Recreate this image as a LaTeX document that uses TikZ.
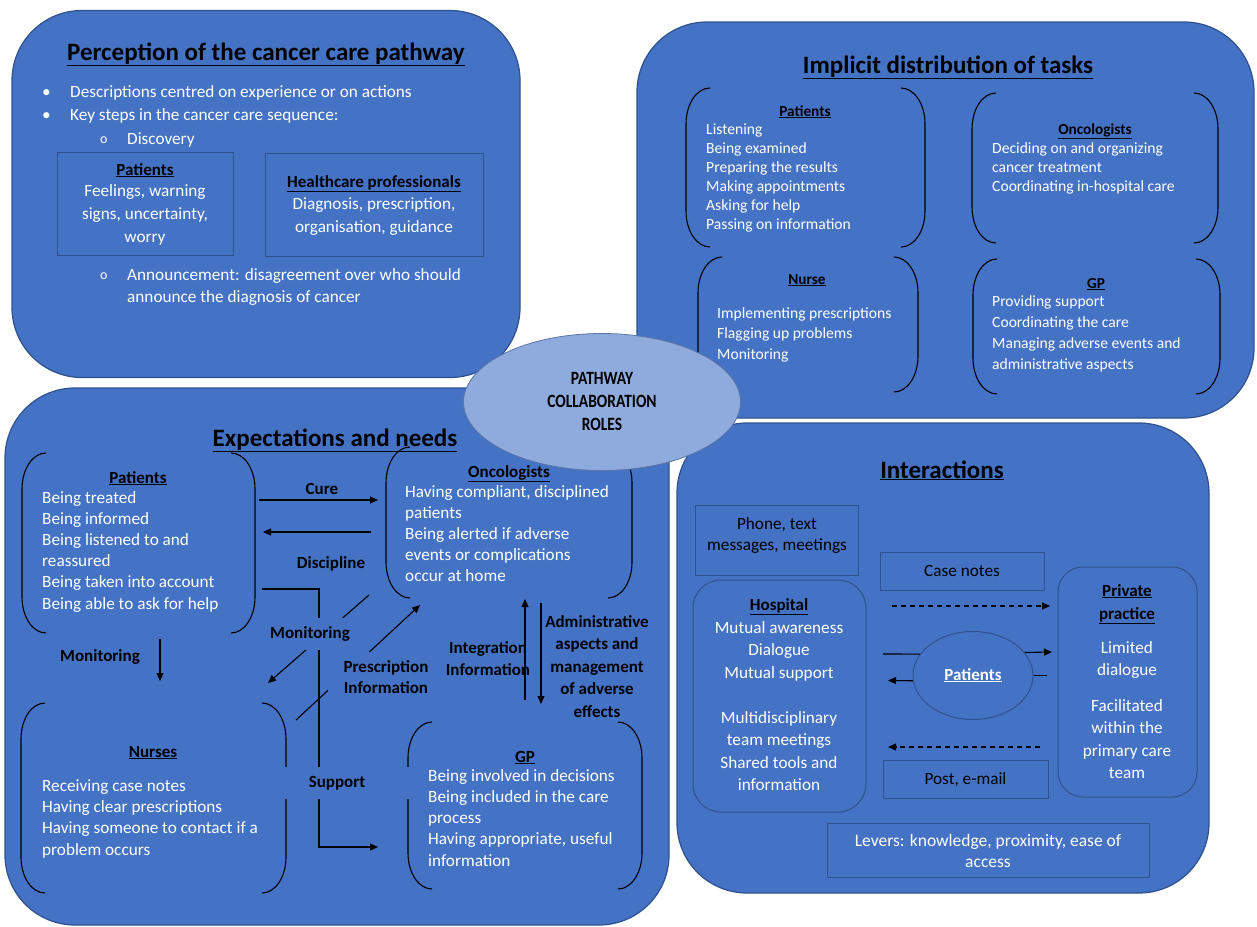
\documentclass[tikz,border=0pt]{standalone}
\usepackage{fontspec}
\setmainfont{Carlito}
\usetikzlibrary{shapes.geometric,arrows.meta}
\definecolor{bfill}{HTML}{4472C4}
\definecolor{bborder}{HTML}{2F528F}
\definecolor{ellfill}{HTML}{8FAADC}
\newcommand\myfs[2]{\fontsize{#1}{#2}\selectfont}
\newcommand\brackets[4]{%
  \draw[brk] ({#1+24},#2) .. controls ({#1+10.7},#2) and (#1,{#2+16}) .. (#1,{#2+36}) -- (#1,{#4-36}) .. controls (#1,{#4-16}) and ({#1+10.7},#4) .. ({#1+24},#4);
  \draw[brk] ({#3-24},#2) .. controls ({#3-10.7},#2) and (#3,{#2+16}) .. (#3,{#2+36}) -- (#3,{#4-36}) .. controls (#3,{#4-16}) and ({#3-10.7},#4) .. ({#3-24},#4);
}
\begin{document}
\begin{tikzpicture}[x=1pt,y=-1pt,
  bigbox/.style={draw=bborder,fill=bfill,line width=1.2pt,rounded corners=70pt,inner sep=0pt},
  inbox/.style={draw=bborder,line width=1pt,inner sep=0pt},
  rbox/.style={draw=bborder,line width=1pt,inner sep=0pt,rounded corners=28pt},
  brk/.style={black,line width=1.1pt},
  ttl/.style={text=black,font=\myfs{25}{30}\bfseries,inner sep=0pt,anchor=base},
  hd/.style={text=black,font=\myfs{17}{20}\bfseries,inner sep=0pt,anchor=base},
  hds/.style={text=black,font=\myfs{15.3}{18}\bfseries,inner sep=0pt,anchor=base},
  wtxt/.style={text=white,inner sep=0pt,anchor=base west,align=left,font=\myfs{17.2}{21}},
  rtxt/.style={text=white,inner sep=0pt,anchor=base west,align=left,font=\myfs{15.6}{19}},
  ctxt/.style={text=white,inner sep=0pt,anchor=base,align=center,font=\myfs{17.2}{23}},
  btxt/.style={text=black,inner sep=0pt,anchor=base,align=center,font=\myfs{17.2}{21}},
  lbl/.style={text=black,inner sep=0pt,align=center,font=\myfs{17}{21.5}\bfseries},
  arr/.style={-{Triangle[length=8pt,width=7pt]},line width=1.1pt,black},
  darr/.style={-{Triangle[length=8pt,width=7pt]},line width=1.1pt,black,dash pattern=on 5pt off 4pt},
  ln/.style={line width=1.1pt,black}]
\useasboundingbox[fill=white] (0,0) rectangle (1257,926);

% ---------- big boxes ----------
\node[bigbox,minimum width=508pt,minimum height=367pt] (perc) at (266,194) {};
\node[bigbox,minimum width=617pt,minimum height=396pt] (impl) at (945.5,220) {};
\node[bigbox,minimum width=664pt,minimum height=537pt] (expe) at (337,656.5) {};
\node[bigbox,minimum width=532pt,minimum height=470pt] (inter) at (943,658) {};

% ---------- Perception ----------
\node[ttl] (percT) at (266,60) {\underline{Perception of the cancer care pathway}};
\node[wtxt] (b1) at (42,97) {\textbullet};
\node[wtxt] (d1) at (70,97) {Descriptions centred on experience or on actions};
\node[wtxt] (b2) at (42,120) {\textbullet};
\node[wtxt] (d2) at (70,120) {Key steps in the cancer care sequence:};
\node[wtxt,font=\myfs{14}{16}] (o1) at (100,143) {o};
\node[wtxt] (d3) at (127,144) {Discovery};
\node[inbox,minimum width=176pt,minimum height=103pt] (pbox) at (145,203.5) {};
\node[hd] (pboxH) at (145,175) {\underline{Patients}};
\node[ctxt] (pboxT) at (145,242) {Feelings, warning\\signs, uncertainty,\\worry};
\node[inbox,minimum width=218pt,minimum height=103pt] (hbox) at (374,204.5) {};
\node[hd] (hboxH) at (374,187) {\underline{Healthcare professionals}};
\node[ctxt] (hboxT) at (374,232) {Diagnosis, prescription,\\organisation, guidance};
\node[wtxt,font=\myfs{14}{16}] (o2) at (100,279) {o};
\node[wtxt,font=\myfs{17.2}{22}] (d4) at (127,302) {Announcement: disagreement over who should\\announce the diagnosis of cancer};

% ---------- Implicit distribution ----------
\node[ttl] (implT) at (948,73) {\underline{Implicit distribution of tasks}};
\brackets{686}{88}{925}{247}
\node[hds] (ipH) at (805,116) {\underline{Patients}};
\node[rtxt] (ipT) at (706,229) {Listening\\Being examined\\Preparing the results\\Making appointments\\Asking for help\\Passing on information};
\brackets{972}{93}{1218}{243}
\node[hds] (ioH) at (1095,134) {\underline{Oncologists}};
\node[rtxt] (ioT) at (992,191) {Deciding on and organizing\\cancer treatment\\Coordinating in-hospital care};
\brackets{698}{257}{918}{392}
\node[hds] (inH) at (807,284) {\underline{Nurse}};
\node[rtxt,font=\myfs{15.6}{20.5}] (inT) at (717,359) {Implementing prescriptions\\Flagging up problems\\Monitoring};
\brackets{973}{259}{1220}{394}
\node[hds] (igH) at (1096,288) {\underline{GP}};
\node[rtxt,font=\myfs{15.6}{21}] (igT) at (992,369) {Providing support\\Coordinating the care\\Managing adverse events and\\administrative aspects};

% ---------- Expectations and needs ----------
\node[ttl] (expeT) at (335,446) {\underline{Expectations and needs}};
\brackets{22}{453}{255}{633}
\node[hd] (epH) at (138,483) {\underline{Patients}};
\node[wtxt,font=\myfs{17.2}{21.2}] (epT) at (42,609) {Being treated\\Being informed\\Being listened to and\\reassured\\Being taken into account\\Being able to ask for help};
\brackets{386}{447}{632}{598}
\node[hd] (eoH) at (509,477) {\underline{Oncologists}};
\node[wtxt,font=\myfs{17.2}{21}] (eoT) at (405,581) {Having compliant, disciplined\\patients\\Being alerted if adverse\\events or complications\\occur at home};
\brackets{21}{703}{286}{893}
\node[hd] (enH) at (153,757) {\underline{Nurses}};
\node[wtxt,font=\myfs{17.2}{21.3}] (enT) at (42,855) {Receiving case notes\\Having clear prescriptions\\Having someone to contact if a\\problem occurs};
\brackets{408}{722}{642}{889}
\node[hd] (egH) at (525,762) {\underline{GP}};
\node[wtxt,font=\myfs{17.2}{21.2}] (egT) at (428,866) {Being involved in decisions\\Being included in the care\\process\\Having appropriate, useful\\information};

% connectors
\coordinate (cureA) at (259,500); \coordinate (cureB) at (378,500);
\draw[arr] (cureA) -- (cureB);
\coordinate (discA) at (371,532); \coordinate (discB) at (263,532);
\draw[arr] (discA) -- (discB);
\coordinate (monA) at (160,639); \coordinate (monB) at (160,681);
\draw[arr] (monA) -- (monB);
\coordinate (supA) at (262,589); \coordinate (supB) at (378,847);
\draw[arr] (supA) -- (319,589) -- (319,847) -- (supB);
\coordinate (onA) at (369,595); \coordinate (onB) at (268,683);
\draw[arr] (onA) -- (onB);
\coordinate (prA) at (296,720); \coordinate (prB) at (420,605);
\draw[arr] (prA) -- (prB);
\coordinate (intA) at (525,700); \coordinate (intB) at (525,599);
\draw[arr] (intA) -- (intB);
\coordinate (admA) at (541,603); \coordinate (admB) at (541,704);
\draw[arr] (admA) -- (admB);

% labels
\node[lbl,anchor=base] (lCure) at (322,494) {Cure};
\node[lbl,anchor=base] (lDisc) at (331,568) {Discipline};
\node[lbl,anchor=base] (lMon1) at (100,661) {Monitoring};
\node[lbl,fill=bfill,minimum width=96pt,minimum height=32pt] (lMon2) at (310,634) {Monitoring};
\node[lbl,fill=bfill,minimum width=147pt,minimum height=32pt] (lSup) at (337,783) {Support};
\node[lbl,fill=bfill,minimum width=116pt,minimum height=51pt] (lPres) at (386,677) {Prescription\\Information};
\node[lbl,anchor=base] (lInt) at (488,675) {Integration\\Information};
\node[lbl,anchor=base,font=\myfs{17}{22.5}\bfseries] (lAdm) at (597,717) {Administrative\\aspects and\\management\\of adverse\\effects};

% ---------- Interactions ----------
\node[ttl] (interT) at (942,478) {\underline{Interactions}};
\node[inbox,minimum width=163pt,minimum height=70pt] (phone) at (776.5,540) {};
\node[btxt] (phoneT) at (777,550) {Phone, text\\messages, meetings};
\node[inbox,minimum width=164pt,minimum height=38pt] (cnote) at (962,571) {};
\node[btxt] (cnoteT) at (962,576) {Case notes};
\node[rbox,minimum width=173pt,minimum height=232pt] (hosp) at (779.5,696) {};
\node[hd] (hospH) at (779,610) {\underline{Hospital}};
\node[ctxt,font=\myfs{17.2}{22.5}] (hospT) at (779,790.5) {Mutual awareness\\Dialogue\\Mutual support\\[22.5pt]Multidisciplinary\\team meetings\\Shared tools and\\information};
\node[rbox,rounded corners=25pt,minimum width=139pt,minimum height=230pt] (priv) at (1127.5,682) {};
\node[hd,align=center,font=\myfs{17}{23}\bfseries] (privH) at (1127,619) {\underline{Private}\\\underline{practice}};
\node[ctxt,font=\myfs{17.2}{22.5}] (privT1) at (1127,675.5) {Limited\\dialogue};
\node[ctxt,font=\myfs{17.2}{22.5}] (privT2) at (1127,778.5) {Facilitated\\within the\\primary care\\team};
\node[ellipse,draw=bborder,line width=1pt,fill=bfill,minimum width=120pt,minimum height=88pt,inner sep=0pt] (pat) at (973,675.5) {};
\node[hd,text=white] (patT) at (973,680) {\underline{Patients}};
\node[inbox,minimum width=165pt,minimum height=38pt] (post) at (965.5,779) {};
\node[btxt] (postT) at (965.5,784) {Post, e-mail};
\node[inbox,minimum width=322pt,minimum height=54pt] (lev) at (988,850) {};
\node[ctxt,font=\myfs{17.5}{21}] (levT) at (988,867) {Levers: knowledge, proximity, ease of\\access};

\coordinate (dA) at (892,606); \coordinate (dB) at (1050,606);
\draw[darr] (dA) -- (dB);
\coordinate (dC) at (1040,747); \coordinate (dD) at (888,747);
\draw[darr] (dC) -- (dD);
\coordinate (hA) at (883,654);
\draw[ln] (hA) -- (pat.158);
\coordinate (ppA) at (1052,652);
\draw[arr] (pat.24) -- (ppA);
\coordinate (ppB) at (1047,675.5);
\draw[ln] (ppB) -- (pat.east);
\coordinate (hB) at (888,680.5);
\draw[arr] (pat.185) -- (hB);

% ---------- central ellipse ----------
\node[ellipse,draw=bborder!80,line width=0.8pt,fill=ellfill,minimum width=277pt,minimum height=137pt,inner sep=0pt] (roles) at (602,402) {};
\node[text=black,inner sep=0pt,font=\myfs{15}{18.4}\bfseries] (rolesT) at (602,403) {\scalebox{1.03}[1.25]{\begin{tabular}{@{}c@{}}PATHWAY\\COLLABORATION\\ROLES\end{tabular}}};
\end{tikzpicture}
\end{document}
